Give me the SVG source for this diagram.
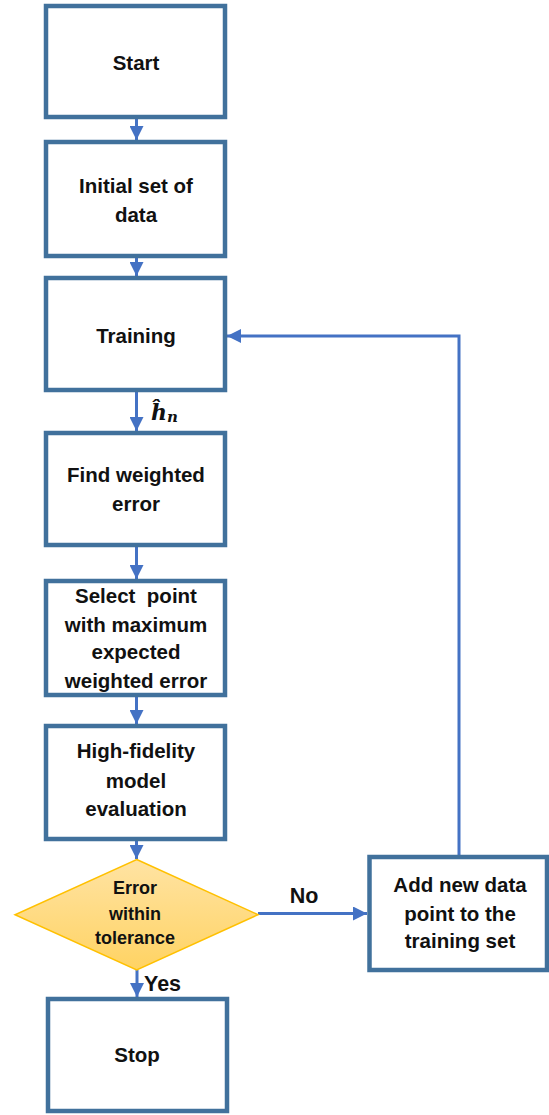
<svg xmlns="http://www.w3.org/2000/svg" width="549" height="1115" viewBox="0 0 549 1115">
<style>
.box{fill:#ffffff;stroke:#41719C;stroke-width:4.5}
.t{font-family:"Liberation Sans",Arial,sans-serif;font-weight:bold;font-size:20.5px;fill:#111111;text-anchor:middle}
.dt{font-family:"Liberation Sans",Arial,sans-serif;font-weight:bold;font-size:18px;fill:#111111;text-anchor:middle}
.lbl{font-family:"Liberation Sans",Arial,sans-serif;font-weight:bold;font-size:21.5px;fill:#111111}
.c{fill:none;stroke:#4472C4;stroke-width:3}
</style>
<defs>
<marker id="ah" markerUnits="userSpaceOnUse" markerWidth="14" markerHeight="14" viewBox="0 0 12 12" refX="12" refY="6" orient="auto">
<path d="M0,0 L12,6 L0,12 Z" fill="#4472C4"/>
</marker>
<linearGradient id="dg" x1="0" y1="0" x2="0" y2="1">
<stop offset="0" stop-color="#FFE3A3"/>
<stop offset="1" stop-color="#FFD363"/>
</linearGradient>
</defs>

<g id="connectors">
<line class="c" x1="136.5" y1="119" x2="136.5" y2="140" marker-end="url(#ah)"/>
<line class="c" x1="136.5" y1="258" x2="136.5" y2="276" marker-end="url(#ah)"/>
<line class="c" x1="136.5" y1="392" x2="136.5" y2="431" marker-end="url(#ah)"/>
<line class="c" x1="136.5" y1="547" x2="136.5" y2="579" marker-end="url(#ah)"/>
<line class="c" x1="136.5" y1="697" x2="136.5" y2="724" marker-end="url(#ah)"/>
<line class="c" x1="136.5" y1="841" x2="136.5" y2="859" marker-end="url(#ah)"/>
<line class="c" x1="137" y1="970" x2="137" y2="997" marker-end="url(#ah)"/>
<line class="c" x1="258" y1="913.5" x2="367" y2="913.5" marker-end="url(#ah)"/>
<polyline class="c" points="459,855 459,336 227,336" marker-end="url(#ah)"/>
<text class="lbl" x="304" y="902.7" text-anchor="middle">No</text>
<text class="lbl" x="144" y="990.7">Yes</text>
<text x="151" y="420" font-family="'DejaVu Serif','Liberation Serif',serif" font-weight="bold" font-style="italic" font-size="22" fill="#111111">ĥ<tspan font-size="15" dy="2">n</tspan></text>
</g>

<g id="start">
<rect class="box" x="46" y="6" width="179" height="111"/>
<text class="t" x="136" y="69.5">Start</text>
</g>

<g id="initial">
<rect class="box" x="46" y="142" width="179" height="114"/>
<text class="t" x="136" y="193.3">Initial set of</text>
<text class="t" x="136" y="221.7">data</text>
</g>

<g id="training">
<rect class="box" x="46" y="278" width="179" height="112"/>
<text class="t" x="136" y="343">Training</text>
</g>

<g id="find">
<rect class="box" x="46" y="433" width="179" height="112"/>
<text class="t" x="136" y="482">Find weighted</text>
<text class="t" x="136" y="511">error</text>
</g>

<g id="select">
<rect class="box" x="46" y="581" width="179" height="114"/>
<text class="t" x="136" y="603" xml:space="preserve">Select  point</text>
<text class="t" x="136" y="632">with maximum</text>
<text class="t" x="136" y="659">expected</text>
<text class="t" x="136" y="688">weighted error</text>
</g>

<g id="highfid">
<rect class="box" x="46" y="726" width="179" height="113"/>
<text class="t" x="136" y="758">High-fidelity</text>
<text class="t" x="136" y="788">model</text>
<text class="t" x="136" y="816">evaluation</text>
</g>

<g id="decision">
<polygon points="136.7,859.5 258,914.7 136.7,970 15,914.7" fill="url(#dg)" stroke="#FFC000" stroke-width="1.5"/>
<text class="dt" x="135" y="894">Error</text>
<text class="dt" x="135" y="920">within</text>
<text class="dt" x="135" y="944.3">tolerance</text>
</g>

<g id="add">
<rect class="box" x="369.5" y="857" width="177.5" height="113"/>
<text class="t" x="460" y="891.7">Add new data</text>
<text class="t" x="460" y="921">point to the</text>
<text class="t" x="460" y="948">training set</text>
</g>

<g id="stop">
<rect class="box" x="48" y="999" width="179" height="112"/>
<text class="t" x="137" y="1061.7">Stop</text>
</g>
</svg>
